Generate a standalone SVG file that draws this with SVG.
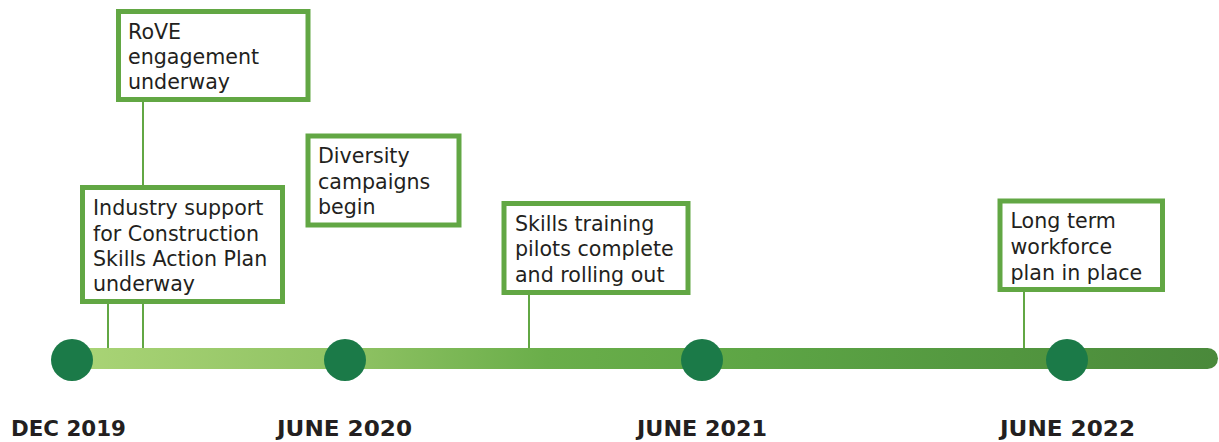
<svg xmlns="http://www.w3.org/2000/svg" width="1219" height="442" viewBox="0 0 1219 442">
<defs>
<linearGradient id="barGrad" x1="60" y1="0" x2="1219" y2="0" gradientUnits="userSpaceOnUse">
<stop offset="0" stop-color="#abd577"/>
<stop offset="0.25" stop-color="#8fc263"/>
<stop offset="0.42" stop-color="#6aae4a"/>
<stop offset="0.6" stop-color="#5da545"/>
<stop offset="0.82" stop-color="#52963f"/>
<stop offset="1" stop-color="#4a893b"/>
</linearGradient>
</defs>
<style>
.box{fill:#ffffff;stroke:#62a744;stroke-width:5}
.conn{stroke:#62a744;stroke-width:2;fill:none}
.txt{font-family:"DejaVu Sans",Verdana,sans-serif;font-size:20.6px;fill:#231f20}
.date{font-family:"DejaVu Sans","Liberation Sans",sans-serif;font-weight:bold;font-size:21.5px;fill:#231f20}
.dot{fill:#1b7a48}
</style>
<rect width="1219" height="442" fill="#ffffff"/>
<g id="connectors">
<line class="conn" x1="143" y1="101" x2="143" y2="349"/>
<line class="conn" x1="108" y1="302" x2="108" y2="349"/>
<line class="conn" x1="529" y1="294" x2="529" y2="349"/>
<line class="conn" x1="1024" y1="290" x2="1024" y2="349"/>
</g>
<g id="timeline">
<rect x="60" y="348" width="1158" height="21" rx="10.5" fill="url(#barGrad)"/>
</g>
<g id="node-dec2019">
<circle class="dot" cx="72" cy="360" r="21"/>
<text class="date" x="11" y="436" textLength="115" lengthAdjust="spacingAndGlyphs">DEC 2019</text>
</g>
<g id="node-june2020">
<circle class="dot" cx="345" cy="360" r="21"/>
<text class="date" x="277" y="436" textLength="135" lengthAdjust="spacingAndGlyphs">JUNE 2020</text>
</g>
<g id="node-june2021">
<circle class="dot" cx="702" cy="360" r="21"/>
<text class="date" x="637" y="436" textLength="130" lengthAdjust="spacingAndGlyphs">JUNE 2021</text>
</g>
<g id="node-june2022">
<circle class="dot" cx="1067" cy="360" r="21"/>
<text class="date" x="1000" y="436" textLength="135" lengthAdjust="spacingAndGlyphs">JUNE 2022</text>
</g>
<g id="box-rove">
<rect class="box" x="118.5" y="11.5" width="189.5" height="88"/>
<text class="txt" x="128" y="39">RoVE</text>
<text class="txt" x="128" y="64">engagement</text>
<text class="txt" x="128" y="89">underway</text>
</g>
<g id="box-industry">
<rect class="box" x="82.5" y="187.5" width="200" height="114"/>
<text class="txt" x="93" y="215">Industry support</text>
<text class="txt" x="93" y="240.5">for Construction</text>
<text class="txt" x="93" y="266">Skills Action Plan</text>
<text class="txt" x="93" y="291">underway</text>
</g>
<g id="box-diversity">
<rect class="box" x="308" y="136" width="151" height="89"/>
<text class="txt" x="318" y="163">Diversity</text>
<text class="txt" x="318" y="188.5">campaigns</text>
<text class="txt" x="318" y="213.5">begin</text>
</g>
<g id="box-skills">
<rect class="box" x="504" y="203.5" width="184" height="89"/>
<text class="txt" x="515" y="230.5">Skills training</text>
<text class="txt" x="515" y="256">pilots complete</text>
<text class="txt" x="515" y="281.5">and rolling out</text>
</g>
<g id="box-workforce">
<rect class="box" x="1000" y="201" width="162.5" height="88.5"/>
<text class="txt" x="1010.5" y="228">Long term</text>
<text class="txt" x="1010.5" y="254">workforce</text>
<text class="txt" x="1010.5" y="280">plan in place</text>
</g>
</svg>
